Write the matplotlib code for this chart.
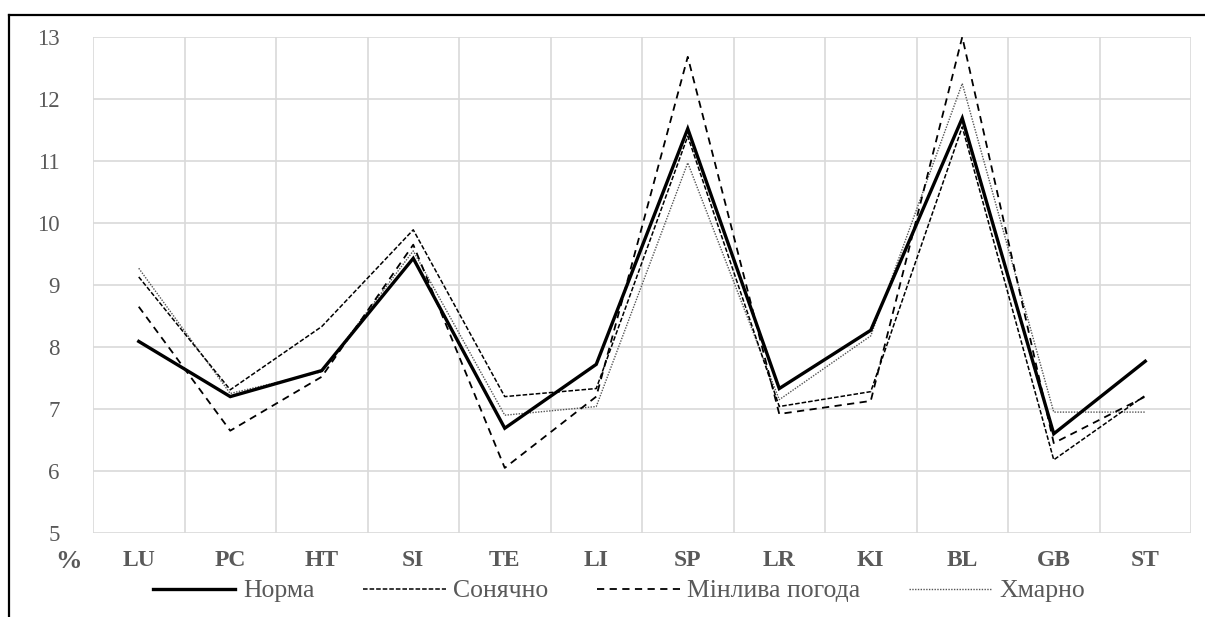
import matplotlib
matplotlib.use("Agg")
import matplotlib.pyplot as plt
from matplotlib.lines import Line2D
from matplotlib.font_manager import FontProperties

categories = ["LU", "PC", "HT", "SI", "TE", "LI", "SP", "LR", "KI", "BL", "GB", "ST"]
norma     = [8.09, 7.20, 7.62, 9.43, 6.69, 7.72, 11.52, 7.33, 8.27, 11.69, 6.60, 7.77]
sonyachno = [9.13, 7.31, 8.33, 9.89, 7.20, 7.33, 11.40, 7.04, 7.28, 11.55, 6.18, 7.22]
minlyva   = [8.65, 6.65, 7.52, 9.65, 6.05, 7.20, 12.68, 6.92, 7.13, 13.00, 6.45, 7.20]
hmarno    = [9.27, 7.25, 7.60, 9.55, 6.90, 7.04, 10.97, 7.15, 8.18, 12.25, 6.95, 6.95]
labels = ["Норма", "Сонячно", "Мінлива погода", "Хмарно"]
yticks = [5, 6, 7, 8, 9, 10, 11, 12, 13]

serif = "Liberation Serif"
plt.rcParams["font.family"] = [serif, "DejaVu Serif"]

W, H = 1205, 617
fig = plt.figure(figsize=(W / 100, H / 100), dpi=100)
ax = fig.add_axes([93 / W, 1 - 533 / H, (1191 - 93) / W, (533 - 37) / H])

x = list(range(len(categories)))
grey = "#595959"
ax.plot(x, norma, color="black", lw=2.4, solid_joinstyle="miter", label=labels[0], zorder=5)
ax.plot(x, sonyachno, color="black", lw=1.1, linestyle=(0, (3, 1.3)), label=labels[1], zorder=4)
ax.plot(x, minlyva, color="black", lw=1.3, linestyle=(0, (4, 3)), label=labels[2], zorder=4)
ax.plot(x, hmarno, color="#555555", lw=1.0, linestyle=(0, (1, 1)), label=labels[3], zorder=3)

ax.set_xlim(-0.5, len(categories) - 0.5)
ax.set_ylim(5, 13)
ax.set_yticks(yticks)
ax.set_xticks(x)
ax.set_xticks([i - 0.5 for i in range(len(categories) + 1)], minor=True)
ax.set_yticklabels([str(v) for v in yticks], fontsize=16.5, color=grey)
ax.set_xticklabels(categories, fontsize=17, fontweight="bold", color=grey)
ax.tick_params(axis="y", which="both", length=0, pad=24)
ax.tick_params(axis="x", which="both", length=0, pad=12)
ax.grid(True, axis="y", which="major", color="#d9d9d9", lw=1.2)
ax.grid(True, axis="x", which="minor", color="#d9d9d9", lw=1.2)
ax.grid(False, axis="x", which="major")
for s in ax.spines.values():
    s.set_visible(False)
ax.set_axisbelow(True)

fig.text(68 / W, 1 - 561 / H, "%", fontsize=19, fontweight="bold",
         color=grey, ha="center", va="center")

leg = fig.legend(loc="center", bbox_to_anchor=(619 / W, 1 - 591 / H), ncol=4, frameon=False,
                 prop=FontProperties(family=serif, size=18.5), handlelength=3.2,
                 handletextpad=0.3, columnspacing=1.9, borderpad=0)
for t in leg.get_texts():
    t.set_color(grey)

# partial outer frame (top and left)
fig.add_artist(Line2D([9 / W, 1], [1 - 15 / H, 1 - 15 / H], color="black", lw=1.6,
                      transform=fig.transFigure))
fig.add_artist(Line2D([9 / W, 9 / W], [0, 1 - 15 / H], color="black", lw=1.6,
                      transform=fig.transFigure))

fig.savefig("out.png", dpi=100)
